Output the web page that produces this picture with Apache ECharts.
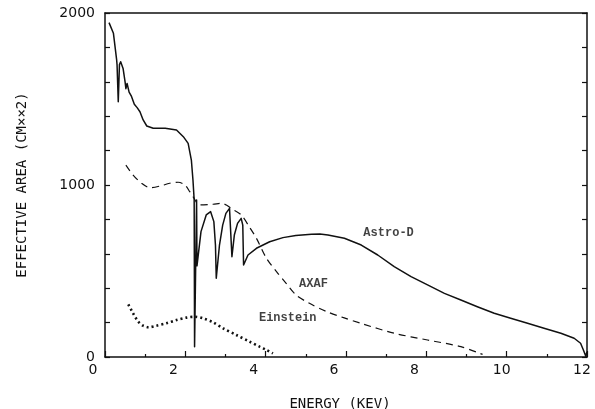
<!DOCTYPE html>
<html>
<head>
<meta charset="utf-8">
<script src="https://cdn.jsdelivr.net/npm/echarts@6/dist/echarts.min.js"></script>
<style>
html,body{margin:0;padding:0;background:#fff;}
#chart{width:595px;height:409px;}
</style>
</head>
<body>
<div id="chart"></div>
<script>
// ---- data (energy in keV, effective area in cm^2) ----
const astroX = [0.10,0.21,0.29,0.30,0.33,0.36,0.39,0.45,0.50,0.52,0.55,0.60,0.63,0.66,0.69,0.73,0.77,0.80,0.87,0.95,1.04,1.20,1.50,1.78,1.95,2.07,2.15,2.19,2.22,2.23,2.25,2.28,2.29,2.31,2.39,2.52,2.63,2.71,2.75,2.77,2.85,2.93,3.01,3.10,3.13,3.16,3.22,3.30,3.39,3.43,3.45,3.56,3.77,4.10,4.43,4.75,5.14,5.35,5.55,5.96,6.38,6.79,7.20,7.62,8.03,8.45,8.86,9.27,9.69,10.10,10.52,10.93,11.35,11.68,11.84,11.91,11.97,12.00];
const astroY = [1944,1882,1727,1700,1484,1700,1717,1678,1600,1560,1590,1540,1548,1515,1510,1470,1475,1450,1426,1378,1343,1330,1330,1320,1281,1242,1145,1029,913,60,60,913,530,535,729,826,845,787,651,458,651,767,835,864,860,583,709,777,806,767,535,593,632,670,694,706,713,715,709,690,651,593,525,467,419,370,331,292,254,225,196,167,138,109,80,41,5,30];

const axafX = [0.52,0.70,0.91,1.12,1.37,1.61,1.82,1.99,2.11,2.19,2.36,2.69,2.89,3.02,3.14,3.39,3.59,3.77,4.02,4.27,4.51,4.76,5.09,5.51,5.92,6.38,7.20,8.03,8.86,9.40];
const axafY = [1116,1058,1010,984,994,1010,1016,1000,961,932,884,888,894,884,864,826,758,690,574,496,428,360,312,265,230,195,138,99,60,15];

const einX = [0.58,0.70,0.83,0.95,1.08,1.28,1.53,1.78,2.03,2.24,2.44,2.69,2.94,3.27,3.60,3.85,4.02,4.18];
const einY = [306,254,205,182,173,182,196,215,229,234,225,202,167,128,89,60,41,21];

const seriesNames = ['Astro-D','AXAF','Einstein'];
const labelX = [7.06,5.19,4.55];
const labelY = [721,424,227];

const xTicks = [0,2,4,6,8,10,12];
const yTickLabels = [0,1000,2000];

const xName = 'ENERGY (KEV)';
const yName = 'EFFECTIVE AREA (CM××2)';

// ---- build ----
const zip = (xs, ys) => xs.map((x, i) => [x, ys[i]]);
const ink = '#111';

const chart = echarts.init(document.getElementById('chart'), null, {renderer: 'canvas'});
chart.setOption({
  backgroundColor: '#fff',
  animation: false,
  grid: {left: 105, right: 8, top: 13, bottom: 52, containLabel: false, outerBoundsMode: 'none'},
  xAxis: [{
    type: 'value', min: 0, max: 12, interval: 2,
    name: xName, nameLocation: 'middle', nameGap: 40,
    nameTextStyle: {fontFamily: 'DejaVu Sans Mono', fontSize: 14, color: ink, padding: [0, 12, 0, 0]},
    axisLine: {onZero: false, lineStyle: {color: ink, width: 1.5}},
    axisTick: {show: true, inside: true, length: 6, lineStyle: {color: ink, width: 1.2}},
    minorTick: {show: true, splitNumber: 2, length: 3, lineStyle: {color: ink, width: 1.2}},
    splitLine: {show: false},
    axisLabel: {
      margin: 6,
      formatter: v => xTicks.indexOf(v) >= 0 ? (String(v).length > 1 ? '{d|' + v + '}' : '{s|' + v + '}') : '',
      rich: {
        s: {fontFamily: 'DejaVu Sans', fontSize: 14, color: ink, padding: [0, 24, 0, 0]},
        d: {fontFamily: 'DejaVu Sans', fontSize: 14, color: ink, padding: [0, 10, 0, 0]}
      }
    }
  }, {
    type: 'value', min: 0, max: 12, position: 'top',
    axisLine: {show: true, onZero: false, lineStyle: {color: ink, width: 1.5}},
    axisTick: {show: false}, axisLabel: {show: false}, splitLine: {show: false}
  }],
  yAxis: [{
    type: 'value', min: 0, max: 2000, interval: 200,
    name: yName, nameLocation: 'middle', nameGap: 76, nameRotate: 90,
    nameTextStyle: {fontFamily: 'DejaVu Sans Mono', fontSize: 14, color: ink},
    axisLine: {show: true, onZero: false, lineStyle: {color: ink, width: 1.5}},
    axisTick: {show: true, inside: true, length: 5, lineStyle: {color: ink, width: 1.2}},
    splitLine: {show: false},
    axisLabel: {
      margin: 10, fontFamily: 'DejaVu Sans', fontSize: 14, color: ink,
      formatter: v => yTickLabels.indexOf(v) >= 0 ? String(v) : ''
    }
  }, {
    type: 'value', min: 0, max: 2000, interval: 200, position: 'right',
    axisLine: {show: true, onZero: false, lineStyle: {color: ink, width: 1.5}},
    axisTick: {show: true, inside: true, length: 5, lineStyle: {color: ink, width: 1.2}},
    axisLabel: {show: false}, splitLine: {show: false}
  }],
  series: [{
    name: seriesNames[0], type: 'line', data: zip(astroX, astroY),
    showSymbol: false, symbol: 'none', smooth: false,
    lineStyle: {color: ink, width: 1.5, join: 'round'}
  }, {
    name: seriesNames[1], type: 'line', data: zip(axafX, axafY),
    showSymbol: false, symbol: 'none', smooth: 0.3,
    lineStyle: {color: ink, width: 1.2, type: [7, 5]}
  }, {
    name: seriesNames[2], type: 'line', data: zip(einX, einY),
    showSymbol: false, symbol: 'none', smooth: 0.3,
    lineStyle: {color: ink, width: 2.6, type: [2, 3], cap: 'butt'}
  }, {
    name: 'labels', type: 'scatter', symbolSize: 0,
    data: seriesNames.map((n, i) => ({name: n, value: [labelX[i], labelY[i]]})),
    label: {
      show: true, position: 'inside', formatter: p => p.name,
      fontFamily: 'Liberation Mono', fontWeight: 'bold', fontSize: 12, color: ink
    },
    silent: true
  }]
});
</script>
</body>
</html>
